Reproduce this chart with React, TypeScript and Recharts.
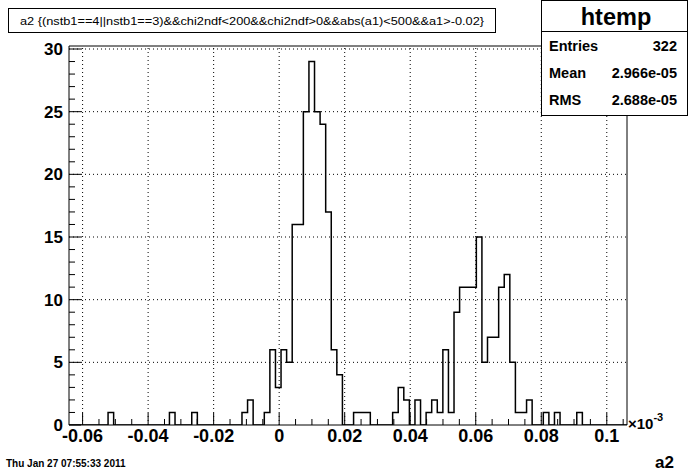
import { ComposedChart, Line, XAxis, YAxis, ReferenceLine, ReferenceArea } from 'recharts';

// htemp: 100 bins of a2 (axis in units of 1e-3)
const xMin = -0.06415;
const xMax = 0.10617;
const binCounts = [
  0, 0, 0, 0, 0, 0, 0, 1, 0, 0,
  0, 0, 0, 0, 0, 0, 0, 0, 1, 0,
  0, 0, 1, 0, 0, 0, 0, 0, 0, 0,
  0, 1, 2, 0, 0, 1, 6, 3, 6, 5,
  16, 16, 25, 29, 25, 24, 17, 6, 4, 0,
  0, 1, 1, 1, 0, 0, 0, 0, 1, 3,
  2, 0, 2, 0, 1, 2, 1, 6, 1, 9,
  11, 11, 11, 15, 5, 7, 7, 11, 12, 5,
  1, 1, 2, 0, 0, 1, 0, 1, 0, 0,
  0, 1, 0, 0, 0, 0, 0, 0, 0, 0,
];

const xMajorTicks = [-0.06, -0.04, -0.02, 0, 0.02, 0.04, 0.06, 0.08, 0.1];
const xTickLabels = ['-0.06', '-0.04', '-0.02', '0', '0.02', '0.04', '0.06', '0.08', '0.1'];
const yMajorTicks = [0, 5, 10, 15, 20, 25, 30];
const yTickLabels = ['0', '5', '10', '15', '20', '25', '30'];
const yMax = 30.24;

const stats = [
  { label: 'Entries', value: '322' },
  { label: 'Mean', value: '2.966e-05' },
  { label: 'RMS', value: '2.688e-05' },
];

const binWidth = (xMax - xMin) / binCounts.length;
const histData = binCounts.map((c, i) => ({ x: xMin + i * binWidth, y: c }));
histData.push({ x: xMax, y: 0 });

// minor ticks every 0.005 on x, every 1 on y
const xTicks: number[] = [];
for (let k = 0; k <= 33; k++) xTicks.push(Math.round((-0.06 + k * 0.005) * 1e6) / 1e6);
const yTicks: number[] = [];
for (let k = 0; k <= 30; k++) yTicks.push(k);

const FONT = '"Liberation Sans", Arial, sans-serif';

function XTick(props: any) {
  const { x, y, payload } = props;
  const idx = xMajorTicks.findIndex((m) => Math.abs(m - payload.value) < 1e-7);
  const major = idx >= 0;
  return (
    <g>
      <line x1={x} x2={x} y1={y} y2={y - (major ? 12 : 6)} stroke="#000" />
      {major && (
        <text x={x} y={y + 17} textAnchor="middle" fontFamily={FONT} fontWeight="bold" fontSize={18} fill="#000">
          {xTickLabels[idx]}
        </text>
      )}
    </g>
  );
}

function YTick(props: any) {
  const { x, y, payload } = props;
  const idx = yMajorTicks.indexOf(payload.value);
  const major = idx >= 0;
  return (
    <g>
      <line x1={x} x2={x + (major ? 12 : 6)} y1={y} y2={y} stroke="#000" />
      {major && (
        <text x={x - 6} y={y + 6} textAnchor="end" fontFamily={FONT} fontWeight="bold" fontSize={17} fill="#000">
          {yTickLabels[idx]}
        </text>
      )}
    </g>
  );
}

export default function App() {
  return (
    <div style={{ position: 'absolute', left: 0, top: 0, width: 696, height: 474, background: '#fff' }}>
      <ComposedChart width={696} height={474} data={histData} margin={{ top: 46, right: 69, bottom: 0, left: 0 }}>
        <XAxis
          type="number"
          dataKey="x"
          domain={[xMin, xMax]}
          allowDataOverflow
          ticks={xTicks}
          interval={0}
          height={49}
          tickSize={0}
          tickMargin={0}
          axisLine={false}
          tickLine={false}
          tick={<XTick />}
        />
        <YAxis
          type="number"
          domain={[0, yMax]}
          allowDataOverflow
          ticks={yTicks}
          interval={0}
          width={69}
          tickSize={0}
          tickMargin={0}
          axisLine={false}
          tickLine={false}
          tick={<YTick />}
        />
        {xMajorTicks.map((v) => (
          <ReferenceLine key={'gx' + v} x={v} stroke="#000" strokeWidth={1} strokeDasharray="1 3" />
        ))}
        {yMajorTicks.slice(1).map((v) => (
          <ReferenceLine key={'gy' + v} y={v} stroke="#000" strokeWidth={1} strokeDasharray="1 3" />
        ))}
        <ReferenceArea x1={xMin} x2={xMax} y1={0} y2={yMax} fill="none" stroke="#000" strokeWidth={1} />
        <Line
          type="stepAfter"
          dataKey="y"
          stroke="#000"
          strokeWidth={1.5}
          dot={false}
          activeDot={false}
          isAnimationActive={false}
        />
      </ComposedChart>
      <svg width={696} height={474} style={{ position: 'absolute', left: 0, top: 0, pointerEvents: 'none' }}>
        <rect x={8.5} y={8.5} width={487} height={24} fill="#fff" stroke="#000" />
        <text x={20} y={25} fontFamily={FONT} fontSize={11.5} textLength={464} lengthAdjust="spacingAndGlyphs" fill="#000">
          {'a2 {(nstb1==4||nstb1==3)&&chi2ndf<200&&chi2ndf>0&&abs(a1)<500&&a1>-0.02}'}
        </text>
        <rect x={541.5} y={0.5} width={146} height={115} fill="#fff" stroke="#000" />
        <line x1={541.5} x2={687.5} y1={31.5} y2={31.5} stroke="#000" />
        <text x={616} y={25} textAnchor="middle" fontFamily={FONT} fontWeight="bold" fontSize={23.5} fill="#000">
          htemp
        </text>
        {stats.map((s, i) => (
          <g key={s.label}>
            <text x={549} y={51 + i * 27} fontFamily={FONT} fontWeight="bold" fontSize={14.5} fill="#000">
              {s.label}
            </text>
            <text x={677} y={51 + i * 27} textAnchor="end" fontFamily={FONT} fontWeight="bold" fontSize={14.5} fill="#000">
              {s.value}
            </text>
          </g>
        ))}
        <text x={628} y={429} fontFamily={FONT} fontWeight="bold" fontSize={15} fill="#000">
          ×10
          <tspan dy={-8} fontSize={11}>-3</tspan>
        </text>
        <text x={655} y={468} fontFamily={FONT} fontWeight="bold" fontSize={17} fill="#000">
          a2
        </text>
        <text x={6} y={467} fontFamily={FONT} fontWeight="bold" fontSize={10} fill="#000">
          Thu Jan 27 07:55:33 2011
        </text>
      </svg>
    </div>
  );
}
